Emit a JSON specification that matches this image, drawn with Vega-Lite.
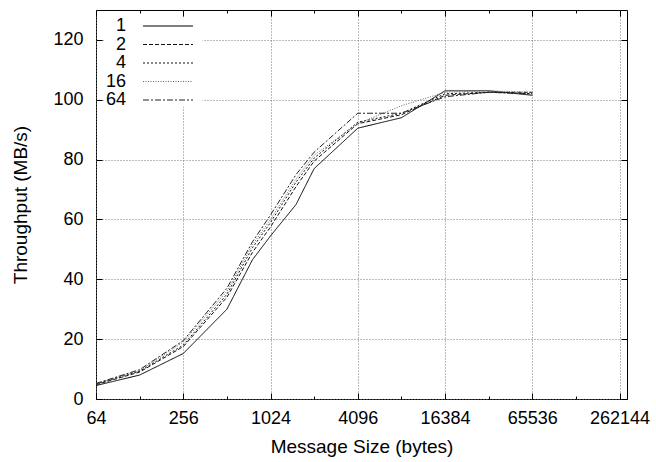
{
  "$schema": "https://vega.github.io/schema/vega-lite/v6.json",
  "width": 531,
  "height": 389,
  "autosize": {"type": "none"},
  "padding": {"left": 96, "top": 10, "right": 29, "bottom": 63},
  "config": {
    "view": {"stroke": "#000", "strokeWidth": 1},
    "font": "Liberation Sans",
    "axis": {
      "domain": false,
      "labelColor": "#000",
      "titleColor": "#000",
      "tickColor": "#000",
      "labelFontSize": 18,
      "titleFontSize": 19,
      "titleFontWeight": "normal",
      "labelFlush": false,
      "gridColor": "#777",
      "gridDash": [1, 2],
      "gridWidth": 1
    }
  },
  "datasets": {
    "tp": [
      {"x": 64, "v": 4.5, "s": "1"}, {"x": 128, "v": 8, "s": "1"}, {"x": 256, "v": 15.2, "s": "1"}, {"x": 512, "v": 30, "s": "1"}, {"x": 768, "v": 46.5, "s": "1"}, {"x": 1024, "v": 54.5, "s": "1"}, {"x": 1536, "v": 65, "s": "1"}, {"x": 2048, "v": 77, "s": "1"}, {"x": 4096, "v": 90.5, "s": "1"}, {"x": 8192, "v": 94, "s": "1"}, {"x": 16384, "v": 103, "s": "1"}, {"x": 32768, "v": 103, "s": "1"}, {"x": 65536, "v": 101.5, "s": "1"},
      {"x": 64, "v": 4.8, "s": "2"}, {"x": 128, "v": 9, "s": "2"}, {"x": 256, "v": 17.5, "s": "2"}, {"x": 512, "v": 34, "s": "2"}, {"x": 768, "v": 49, "s": "2"}, {"x": 1024, "v": 57.5, "s": "2"}, {"x": 1536, "v": 71, "s": "2"}, {"x": 2048, "v": 79.5, "s": "2"}, {"x": 4096, "v": 92, "s": "2"}, {"x": 8192, "v": 95, "s": "2"}, {"x": 16384, "v": 101.5, "s": "2"}, {"x": 32768, "v": 102.5, "s": "2"}, {"x": 65536, "v": 102.5, "s": "2"},
      {"x": 64, "v": 5, "s": "4"}, {"x": 128, "v": 9.3, "s": "4"}, {"x": 256, "v": 18, "s": "4"}, {"x": 512, "v": 35, "s": "4"}, {"x": 768, "v": 50.5, "s": "4"}, {"x": 1024, "v": 59, "s": "4"}, {"x": 1536, "v": 72.5, "s": "4"}, {"x": 2048, "v": 80.5, "s": "4"}, {"x": 4096, "v": 92.5, "s": "4"}, {"x": 8192, "v": 95.5, "s": "4"}, {"x": 16384, "v": 102, "s": "4"}, {"x": 32768, "v": 102.5, "s": "4"}, {"x": 65536, "v": 102, "s": "4"},
      {"x": 64, "v": 5, "s": "16"}, {"x": 128, "v": 9.5, "s": "16"}, {"x": 256, "v": 19, "s": "16"}, {"x": 512, "v": 36, "s": "16"}, {"x": 768, "v": 51.5, "s": "16"}, {"x": 1024, "v": 60, "s": "16"}, {"x": 1536, "v": 73.5, "s": "16"}, {"x": 2048, "v": 81.5, "s": "16"}, {"x": 4096, "v": 92, "s": "16"}, {"x": 8192, "v": 98, "s": "16"}, {"x": 16384, "v": 102.5, "s": "16"}, {"x": 32768, "v": 103, "s": "16"}, {"x": 65536, "v": 102.5, "s": "16"},
      {"x": 64, "v": 5.2, "s": "64"}, {"x": 128, "v": 9.8, "s": "64"}, {"x": 256, "v": 19.5, "s": "64"}, {"x": 512, "v": 37, "s": "64"}, {"x": 768, "v": 52.5, "s": "64"}, {"x": 1024, "v": 61.5, "s": "64"}, {"x": 1536, "v": 75, "s": "64"}, {"x": 2048, "v": 82.5, "s": "64"}, {"x": 4096, "v": 95.5, "s": "64"}, {"x": 8192, "v": 95.5, "s": "64"}, {"x": 16384, "v": 101, "s": "64"}, {"x": 32768, "v": 102.5, "s": "64"}, {"x": 65536, "v": 102, "s": "64"}
    ],
    "keybox": [{"x": 73, "x2": 348, "y": 97.7, "y2": 127.6}]
  },
  "layer": [
    {
      "data": {"name": "keybox"},
      "mark": {"type": "rect", "fill": "#fff"},
      "encoding": {
        "x": {"field": "x", "type": "quantitative", "scale": {"type": "log", "base": 2, "domain": [64, 295000], "nice": false}, "axis": null},
        "x2": {"field": "x2"},
        "y": {"field": "y", "type": "quantitative", "scale": {"domain": [0, 130], "nice": false}, "axis": null},
        "y2": {"field": "y2"}
      }
    },
    {
      "data": {"name": "tp"},
      "mark": {"type": "line", "strokeWidth": 1},
      "encoding": {
        "x": {
          "field": "x", "type": "quantitative",
          "axis": {"orient": "bottom", "values": [64, 256, 1024, 4096, 16384, 65536, 262144], "format": "d", "grid": true, "tickSize": -6, "labelPadding": 16, "title": "Message Size (bytes)", "titlePadding": 10}
        },
        "y": {
          "field": "v", "type": "quantitative",
          "axis": {"orient": "left", "values": [0, 20, 40, 60, 80, 100, 120], "grid": true, "tickSize": -6, "labelPadding": 19, "title": "Throughput (MB/s)", "titlePadding": 22}
        },
        "color": {"field": "s", "type": "nominal", "scale": {"domain": ["1", "2", "4", "16", "64"], "range": ["#000", "#111", "#111", "#666", "#222"]}, "legend": {"orient": "none", "legendX": 46, "legendY": 7, "title": null, "symbolType": "M-5,0H5", "symbolSize": 100, "symbolStrokeWidth": 1, "symbolFillColor": "transparent", "symbolOffset": 17, "labelAlign": "right", "labelOffset": -51, "labelFontSize": 18, "labelColor": "#000", "padding": 0, "rowPadding": 0.5}},
        "strokeDash": {"field": "s", "type": "nominal", "scale": {"domain": ["1", "2", "4", "16", "64"], "range": [[1, 0], [4, 2], [2, 2], [1, 1.5], [6, 2, 2, 2]]}, "legend": {"orient": "none", "legendX": 46, "legendY": 7, "title": null, "symbolType": "M-5,0H5", "symbolSize": 100, "symbolStrokeWidth": 1, "symbolFillColor": "transparent", "symbolOffset": 17, "labelAlign": "right", "labelOffset": -51, "labelFontSize": 18, "labelColor": "#000", "padding": 0, "rowPadding": 0.5}}
      }
    },
    {
      "data": {"name": "tp"},
      "mark": {"type": "point", "opacity": 0},
      "encoding": {
        "x": {"field": "x", "type": "quantitative", "axis": {"orient": "top", "values": [64, 256, 1024, 4096, 16384, 65536, 262144], "labels": false, "grid": false, "tickSize": -6, "title": null}},
        "y": {"field": "v", "type": "quantitative", "axis": {"orient": "right", "values": [0, 20, 40, 60, 80, 100, 120], "labels": false, "grid": false, "tickSize": -6, "title": null}}
      }
    },
    {
      "data": {"name": "tp"},
      "mark": {"type": "point", "opacity": 0},
      "encoding": {
        "x": {"field": "x", "type": "quantitative", "axis": {"orient": "bottom", "values": [128, 512, 2048, 8192, 32768, 131072], "labels": false, "grid": false, "tickSize": -3, "title": null}},
        "y": {"field": "v", "type": "quantitative", "axis": null}
      }
    },
    {
      "data": {"name": "tp"},
      "mark": {"type": "point", "opacity": 0},
      "encoding": {
        "x": {"field": "x", "type": "quantitative", "axis": {"orient": "top", "values": [128, 512, 2048, 8192, 32768, 131072], "labels": false, "grid": false, "tickSize": -3, "title": null}},
        "y": {"field": "v", "type": "quantitative", "axis": null}
      }
    }
  ],
  "resolve": {"axis": {"x": "independent", "y": "independent"}}
}
